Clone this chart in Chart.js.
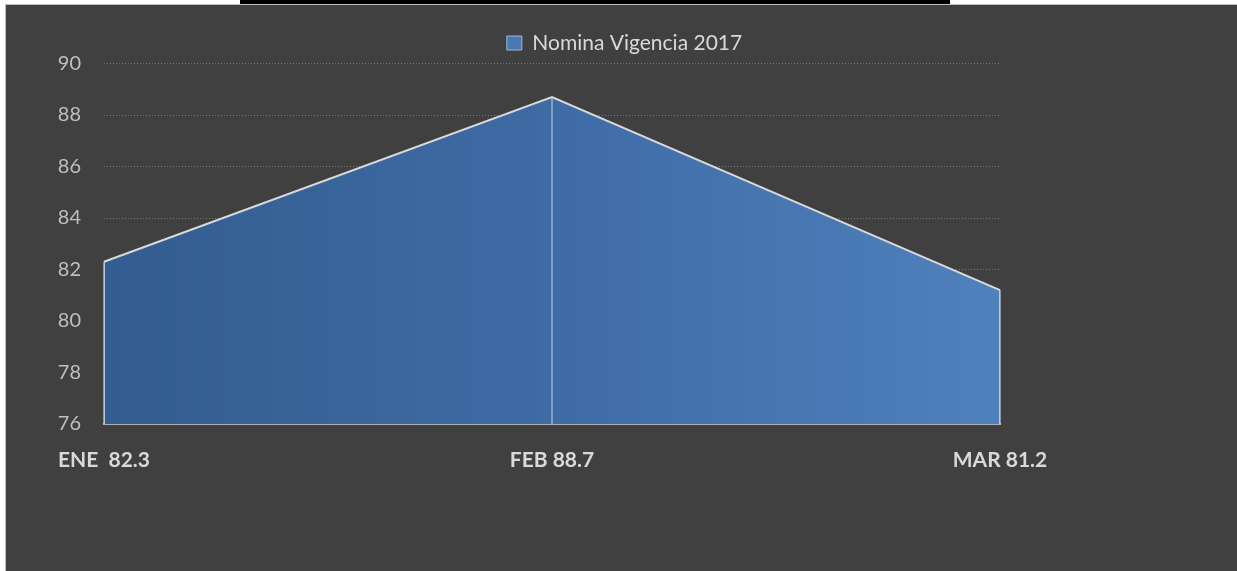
<!DOCTYPE html>
<html>
<head>
<meta charset="utf-8">
<script src="https://cdn.jsdelivr.net/npm/chart.js@4/dist/chart.umd.min.js"></script>
<style>
  html, body { margin: 0; padding: 0; background: #ffffff; overflow: hidden; }
  #panel { position: absolute; left: 5px; top: 4px; width: 1240px; height: 575px; background: #404040; border-left: 1px solid #c0c0c0; border-top: 1px solid #c0c0c0; }
  #bar { position: absolute; left: 240px; top: 0; width: 710px; height: 4px; background: #000000; }
  #chart { position: absolute; left: 0; top: 0; }
</style>
</head>
<body>
<div id="panel"></div>
<div id="bar"></div>
<canvas id="chart" width="1237" height="571"></canvas>
<script>
const months = ['ENE', 'FEB', 'MAR'];
const nomina = [82.3, 88.7, 81.2];
const tickLabels = ['ENE  82.3', 'FEB 88.7', 'MAR 81.2'];
const seriesName = 'Nomina Vigencia 2017';
const yMin = 76;
const yMax = 90;
const yStep = 2;

// vertical edges of the area drawn over the fill (ENE, FEB and MAR)
const edges = [
    { x: months[0], y: nomina[0] }, { x: months[0], y: yMin }, { x: months[0], y: null },
    { x: months[1], y: yMin }, { x: months[1], y: nomina[1] }, { x: months[1], y: null },
    { x: months[2], y: nomina[2] }, { x: months[2], y: yMin }
];

function areaGradient(context) {
    const area = context.chart.chartArea;
    if (!area)
        return '#4f81bd';
    const g = context.chart.ctx.createLinearGradient(area.left, 0, area.right, 0);
    g.addColorStop(0, '#335d90');
    g.addColorStop(0.5, '#3f6ba5');
    g.addColorStop(1, '#4f81bd');
    return g;
}

new Chart(document.getElementById('chart'), {
    type: 'line',
    data: {
        labels: months,
        datasets: [
            {
                label: seriesName,
                data: nomina,
                order: 1,
                fill: 'start',
                backgroundColor: areaGradient,
                borderColor: '#d9d9d9',
                borderWidth: 2,
                pointRadius: 0,
                tension: 0
            },
            {
                label: 'edges',
                data: edges,
                order: 0,
                fill: false,
                borderColor: '#c9d3e0',
                borderWidth: 1,
                pointRadius: 0,
                spanGaps: false
            }
        ]
    },
    options: {
        responsive: false,
        animation: false,
        layout: { padding: { left: 12, right: 0, top: 24, bottom: 0 } },
        plugins: {
            tooltip: { enabled: false },
            legend: {
                position: 'top',
                labels: {
                    color: '#d9d9d9',
                    font: { family: 'Lato', size: 21 },
                    boxWidth: 15,
                    boxHeight: 14,
                    padding: 8.5,
                    generateLabels: (chart) => [{
                        text: seriesName,
                        fillStyle: '#4a78b2',
                        strokeStyle: '#9fb8d8',
                        lineWidth: 1,
                        datasetIndex: 0,
                        fontColor: '#d9d9d9'
                    }]
                }
            }
        },
        scales: {
            x: {
                offset: false,
                grid: { display: false, drawTicks: false },
                border: { display: true, color: '#b0b0b0', width: 2 },
                ticks: {
                    color: '#d9d9d9',
                    font: { family: 'Lato', size: 21, weight: 'bold' },
                    padding: 24,
                    maxRotation: 0,
                    autoSkip: false,
                    callback: (value, index) => tickLabels[index]
                },
                afterFit: (scale) => { scale.height = 147; }
            },
            y: {
                min: yMin,
                max: yMax,
                grid: { color: '#7a7a7a', lineWidth: 1, drawTicks: false },
                border: { display: false, dash: [1, 2] },
                ticks: {
                    stepSize: yStep,
                    color: '#bfbfbf',
                    font: { family: 'Lato', size: 20 },
                    padding: 23
                },
                afterFit: (scale) => { scale.width = 92; }
            },
            right: {
                position: 'right',
                grid: { display: false, drawTicks: false },
                border: { display: false },
                ticks: { display: false },
                afterFit: (scale) => { scale.width = 237; }
            }
        }
    }
});
</script>
</body>
</html>
